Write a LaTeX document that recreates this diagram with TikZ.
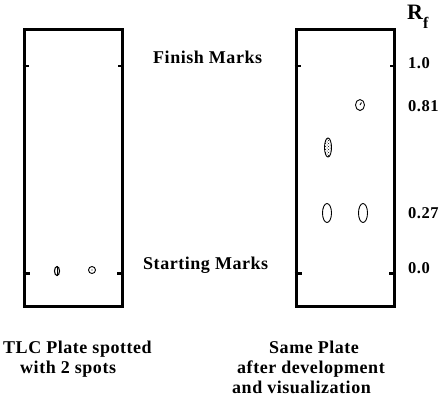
\documentclass[tikz,border=0pt]{standalone}
\usepackage{fontspec}
\setmainfont{Liberation Serif}[LetterSpace=3]
\usetikzlibrary{shapes.geometric, patterns}

\begin{document}
\begin{tikzpicture}[x=1pt, y=-1pt,
    plate/.style={draw, line width=3pt, minimum width=98pt, minimum height=277pt, inner sep=0pt},
    spot/.style={ellipse, draw, line width=.9pt, inner sep=0pt},
    tick line/.style={line width=2.5pt},
    bold text/.style={font=\bfseries\fontsize{18}{20}\selectfont, inner sep=0pt, anchor=base west},
    rf text/.style={bold text, font=\bfseries\fontsize{16.5}{18}\selectfont}]
\useasboundingbox (0,0) rectangle (441,400);
% plates
\node[plate] (lplate) at (73,167.5) {};
\node[plate] (rplate) at (345,167.5) {};
\foreach \p in {lplate, rplate}{
    \draw[tick line] (\p.west |- 0,66) -- ++(6,0);
    \draw[tick line] (\p.east |- 0,66) -- ++(-6,0);
    \draw[tick line, line width=3pt] (\p.west |- 0,273) -- ++(7,0);
    \draw[tick line, line width=3pt] (\p.east |- 0,273) -- ++(-7,0);
}
% spots before development
\node[spot, minimum width=5pt, minimum height=9pt, line width=1.1pt] (a1) at (57,271) {};
\draw[line width=.9pt] (a1.north) -- (a1.south);
\node[spot, minimum width=7pt, minimum height=7pt] (a2) at (92,270) {};
\fill (a2.center) circle (.6);
% spots after development
\node[spot, minimum width=9pt, minimum height=11pt] (b1) at (360,105) {};
\draw[line width=.9pt] (b1.center) -- ++(1.5,-2.5);
\node[spot, minimum width=7pt, minimum height=19pt, pattern=crosshatch dots] (b2) at (328,147.5) {};
\node[spot, minimum width=9pt, minimum height=19pt] (b3) at (327,213) {};
\node[spot, minimum width=9pt, minimum height=19pt] (b4) at (363,213) {};
% labels
\node[bold text] (finish) at (153,63) {Finish Marks};
\node[bold text] (start) at (143,269) {Starting Marks};
\node[bold text, font=\bfseries\fontsize{22}{22}\selectfont] (rf) at (407,19) {R\raisebox{-9pt}{\fontsize{16}{16}\selectfont f}};
\node[rf text] (r10) at (408,68) {1.0};
\node[rf text] (r81) at (408,111) {0.81};
\node[rf text] (r27) at (408,218) {0.27};
\node[rf text] (r00) at (408,273) {0.0};
\node[bold text] (cap1) at (3,353) {TLC Plate spotted};
\node[bold text] (cap2) at (20,373) {with 2 spots};
\node[bold text] (cap3) at (269,353) {Same Plate};
\node[bold text] (cap4) at (237,373) {after development};
\node[bold text] (cap5) at (232,393) {and visualization};
\end{tikzpicture}
\end{document}
